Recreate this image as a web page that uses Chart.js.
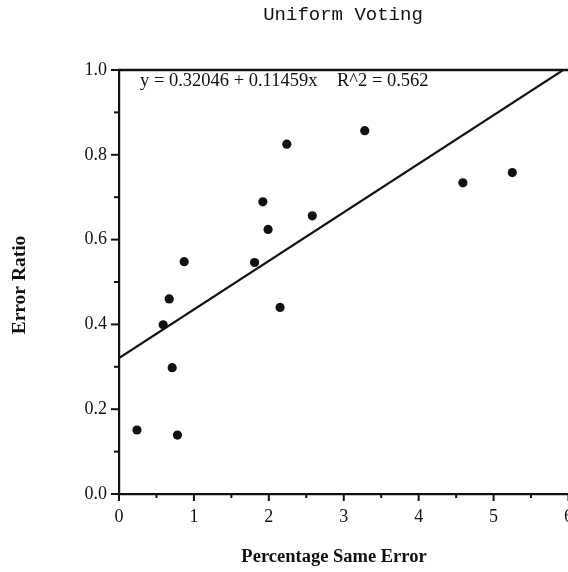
<!DOCTYPE html>
<html><head><meta charset="utf-8">
<script src="https://cdn.jsdelivr.net/npm/chart.js@4.4.1/dist/chart.umd.min.js"></script>
<style>html,body{margin:0;padding:0;background:#fff;overflow:hidden;width:568px;height:572px}canvas{display:block}</style>
</head><body>
<canvas id="c" width="585" height="572"></canvas>
<script>
const titleText = "Uniform Voting";
const xAxisTitle = "Percentage Same Error";
const yAxisTitle = "Error Ratio";
const fitText = "y = 0.32046 + 0.11459x";
const r2Text = "R^2 = 0.562";

const pctSameError = [0.24, 0.78, 0.71, 0.59, 0.67, 0.87, 1.81, 2.15, 2.24, 3.28, 1.92, 1.99, 2.58, 4.59, 5.25];
const errorRatio   = [0.151, 0.139, 0.298, 0.399, 0.460, 0.548, 0.546, 0.440, 0.825, 0.857, 0.689, 0.624, 0.656, 0.734, 0.758];

const fitIntercept = 0.32046;
const fitSlope = 0.11459;
const fitX = [0, 6];

const xMajorTicks = [0, 1, 2, 3, 4, 5, 6];
const xMinorTicks = [0.5, 1.5, 2.5, 3.5, 4.5, 5.5];
const yMajorTicks = [0, 0.2, 0.4, 0.6, 0.8, 1.0];
const yMinorTicks = [0.1, 0.3, 0.5, 0.7, 0.9];

const INK = '#111';
const points = pctSameError.map((x, i) => ({x, y: errorRatio[i]}));
const fitLine = fitX.map(x => ({x, y: fitIntercept + fitSlope * x}));

const decor = {
  id: 'decor',
  afterDraw(chart) {
    const {ctx, chartArea: a, scales: {x, y}} = chart;
    ctx.save();
    ctx.strokeStyle = INK; ctx.fillStyle = INK;
    // top frame line
    ctx.lineWidth = 2.5;
    ctx.beginPath(); ctx.moveTo(a.left - 1, a.top); ctx.lineTo(a.right + 5, a.top); ctx.stroke();
    // ticks
    ctx.lineWidth = 2;
    yMajorTicks.forEach(v => { const p = y.getPixelForValue(v); ctx.beginPath(); ctx.moveTo(a.left - 8, p); ctx.lineTo(a.left, p); ctx.stroke(); });
    yMinorTicks.forEach(v => { const p = y.getPixelForValue(v); ctx.beginPath(); ctx.moveTo(a.left - 5, p); ctx.lineTo(a.left, p); ctx.stroke(); });
    xMajorTicks.forEach(v => { const p = x.getPixelForValue(v); ctx.beginPath(); ctx.moveTo(p, a.bottom); ctx.lineTo(p, a.bottom + 7); ctx.stroke(); });
    xMinorTicks.forEach(v => { const p = x.getPixelForValue(v); ctx.beginPath(); ctx.moveTo(p, a.bottom); ctx.lineTo(p, a.bottom + 4); ctx.stroke(); });
    // title
    ctx.font = '19px "Liberation Mono"';
    ctx.textAlign = 'center'; ctx.textBaseline = 'middle';
    ctx.fillText(titleText, 343, 15);
    // axis titles
    ctx.font = 'bold 18.5px "Liberation Serif"';
    ctx.fillText(xAxisTitle, 334, 557);
    ctx.save();
    ctx.translate(20, 285); ctx.rotate(-Math.PI / 2);
    ctx.font = 'bold 19.5px "Liberation Serif"';
    ctx.fillText(yAxisTitle, 0, 0);
    ctx.restore();
    // equation
    ctx.font = '18.5px "Liberation Serif"';
    ctx.textAlign = 'left';
    ctx.fillText(fitText, 140, 81);
    ctx.fillText(r2Text, 337, 81);
    ctx.restore();
  }
};

new Chart(document.getElementById('c'), {
  type: 'scatter',
  data: {
    datasets: [
      { data: points, pointRadius: 4.6, pointHoverRadius: 4.6, backgroundColor: INK, borderWidth: 0, pointBorderWidth: 0 },
      { type: 'line', data: fitLine, borderColor: INK, borderWidth: 2.2, pointRadius: 0, fill: false, tension: 0 }
    ]
  },
  plugins: [decor],
  options: {
    responsive: false,
    animation: false,
    events: [],
    layout: { padding: { top: 70, right: 0, bottom: 0, left: 0 } },
    plugins: { legend: { display: false }, title: { display: false }, tooltip: { enabled: false } },
    scales: {
      x: {
        type: 'linear', min: 0, max: 6,
        afterFit(s) { s.height = 78; },
        grid: { display: false, drawTicks: false },
        border: { display: true, width: 2.2, color: INK },
        ticks: { stepSize: 1, padding: 12, color: INK, font: { family: 'Liberation Serif', size: 18 }, maxRotation: 0, callback: v => String(v) }
      },
      y: {
        type: 'linear', min: 0, max: 1,
        afterFit(s) { s.width = 119; },
        grid: { display: false, drawTicks: false },
        border: { display: true, width: 2.2, color: INK },
        ticks: { stepSize: 0.2, padding: 12, color: INK, font: { family: 'Liberation Serif', size: 18 }, callback: v => Number(v).toFixed(1) }
      }
    }
  }
});
</script>
</body></html>
